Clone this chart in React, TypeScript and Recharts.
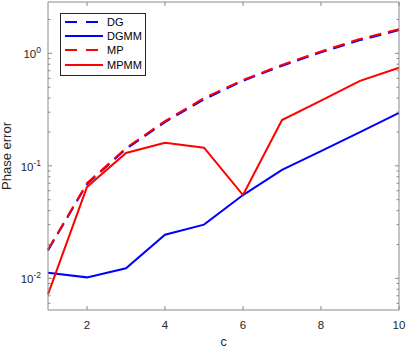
import React from 'react';
import { LineChart, Line, XAxis, YAxis, Legend } from 'recharts';

const cValues = [1, 2, 3, 4, 5, 6, 7, 8, 9, 10];
const dg = [0.0177, 0.069, 0.141, 0.245, 0.39, 0.57, 0.775, 1.02, 1.31, 1.61];
const dgmm = [0.0112, 0.0102, 0.0123, 0.0244, 0.03, 0.055, 0.092, 0.135, 0.199, 0.296];
const mp = [0.018, 0.07, 0.144, 0.25, 0.4, 0.58, 0.79, 1.04, 1.34, 1.64];
const mpmm = [0.0072, 0.065, 0.13, 0.16, 0.145, 0.055, 0.255, 0.38, 0.57, 0.745];

const xTicks = [2, 4, 6, 8, 10];
const yTicks = [
  0.006, 0.007, 0.008, 0.009,
  0.01, 0.02, 0.03, 0.04, 0.05, 0.06, 0.07, 0.08, 0.09,
  0.1, 0.2, 0.3, 0.4, 0.5, 0.6, 0.7, 0.8, 0.9,
  1, 2,
];
const yDomain = [0.00523, 2.86];

const seriesList = [
  { key: 'DG', color: '#0000ff', dash: '12 7' },
  { key: 'DGMM', color: '#0000ff', dash: undefined },
  { key: 'MP', color: '#ff0000', dash: '12 7' },
  { key: 'MPMM', color: '#ff0000', dash: undefined },
];

const data = cValues.map((c, i) => ({
  c,
  DG: dg[i],
  DGMM: dgmm[i],
  MP: mp[i],
  MPMM: mpmm[i],
}));

const FONT = '"Liberation Sans", Arial, Helvetica, sans-serif';
const AXIS = '#8a8a8a';
const TEXT = '#262626';

const isDecade = (v: number) => Math.abs(Math.log10(v) - Math.round(Math.log10(v))) < 1e-6;

const LeftTick = (props: any) => {
  const { x, y, payload } = props;
  const v = payload.value;
  const major = isDecade(v);
  const len = major ? 4 : 2.5;
  const exp = Math.round(Math.log10(v));
  return (
    <g>
      <line x1={x} y1={y} x2={x + len} y2={y} stroke={AXIS} strokeWidth={1} />
      {major && (
        <text x={x - 7} y={y + 5} textAnchor="end" fontFamily={FONT} fontSize={11.5} fill={TEXT}>
          <tspan>10</tspan>
          <tspan dy={-5} fontSize={8.5}>{String(exp)}</tspan>
        </text>
      )}
    </g>
  );
};

const RightTick = (props: any) => {
  const { x, y, payload } = props;
  const major = isDecade(payload.value);
  const len = major ? 4 : 2.5;
  return <line x1={x} y1={y} x2={x - len} y2={y} stroke={AXIS} strokeWidth={1} />;
};

const BottomTick = (props: any) => {
  const { x, y, payload } = props;
  return (
    <g>
      <line x1={x} y1={y} x2={x} y2={y - 4} stroke={AXIS} strokeWidth={1} />
      <text x={x} y={y + 19} textAnchor="middle" fontFamily={FONT} fontSize={11.5} fill={TEXT}>
        {payload.value}
      </text>
    </g>
  );
};

const TopTick = (props: any) => {
  const { x, y } = props;
  return <line x1={x} y1={y} x2={x} y2={y + 4} stroke={AXIS} strokeWidth={1} />;
};

const XLabel = (props: any) => {
  const vb = props.viewBox;
  return (
    <text x={vb.x + vb.width / 2} y={vb.y + 36} textAnchor="middle" fontFamily={FONT} fontSize={12.5} fill={TEXT}>
      c
    </text>
  );
};

const YLabel = (props: any) => {
  const vb = props.viewBox;
  const cx = vb.x + 10.5;
  const cy = vb.y + vb.height / 2;
  return (
    <text x={cx} y={cy} textAnchor="middle" transform={`rotate(-90 ${cx} ${cy})`} fontFamily={FONT} fontSize={13} fill={TEXT}>
      Phase error
    </text>
  );
};

const LegendBox = () => (
  <div
    style={{
      border: '1px solid #262626',
      background: '#fff',
      width: 84,
      height: 60,
      boxSizing: 'content-box',
      fontFamily: FONT,
      fontSize: 11,
      color: '#000',
      paddingTop: 1,
    }}
  >
    {seriesList.map((s) => (
      <div key={s.key} style={{ display: 'flex', alignItems: 'center', height: 14.2 }}>
        <svg width={46} height={10} style={{ display: 'block' }}>
          <line x1={4} y1={5} x2={42} y2={5} stroke={s.color} strokeWidth={2} strokeDasharray={s.dash ? '12 9' : undefined} />
        </svg>
        <span style={{ lineHeight: '14px' }}>{s.key}</span>
      </div>
    ))}
  </div>
);

export default function App() {
  return (
    <div style={{ position: 'absolute', left: 0, top: 0, width: 407, height: 349, background: '#fff' }}>
      <LineChart width={407} height={349} data={data} margin={{ top: 0, right: 0, bottom: 0, left: 0 }}>
        <XAxis
          xAxisId="bottom"
          dataKey="c"
          type="number"
          domain={[1, 10]}
          ticks={xTicks}
          height={39}
          tickSize={0}
          tickMargin={0}
          tick={<BottomTick />}
          axisLine={{ stroke: AXIS, strokeWidth: 1 }}
          tickLine={false}
          interval={0}
          label={<XLabel />}
        />
        <XAxis
          xAxisId="top"
          orientation="top"
          dataKey="c"
          type="number"
          domain={[1, 10]}
          ticks={xTicks}
          height={2}
          tickSize={0}
          tickMargin={0}
          tick={<TopTick />}
          axisLine={{ stroke: AXIS, strokeWidth: 1 }}
          tickLine={false}
          interval={0}
        />
        <YAxis
          yAxisId="left"
          type="number"
          scale="log"
          domain={yDomain}
          allowDataOverflow
          ticks={yTicks}
          width={48}
          tickSize={0}
          tickMargin={0}
          tick={<LeftTick />}
          axisLine={{ stroke: AXIS, strokeWidth: 1 }}
          tickLine={false}
          interval={0}
          label={<YLabel />}
        />
        <YAxis
          yAxisId="right"
          orientation="right"
          type="number"
          scale="log"
          domain={yDomain}
          allowDataOverflow
          ticks={yTicks}
          width={8}
          tickSize={0}
          tickMargin={0}
          tick={<RightTick />}
          axisLine={{ stroke: AXIS, strokeWidth: 1 }}
          tickLine={false}
          interval={0}
        />
        {seriesList.map((s) => (
          <Line
            key={s.key}
            xAxisId="bottom"
            yAxisId="left"
            type="linear"
            dataKey={s.key}
            stroke={s.color}
            strokeWidth={2}
            strokeDasharray={s.dash}
            dot={false}
            activeDot={false}
            isAnimationActive={false}
          />
        ))}
        <Legend
          layout="horizontal"
          align="center"
          verticalAlign="middle"
          content={<LegendBox />}
          wrapperStyle={{ position: 'absolute', top: 13, left: 60, width: 86, height: 62 }}
        />
      </LineChart>
    </div>
  );
}
